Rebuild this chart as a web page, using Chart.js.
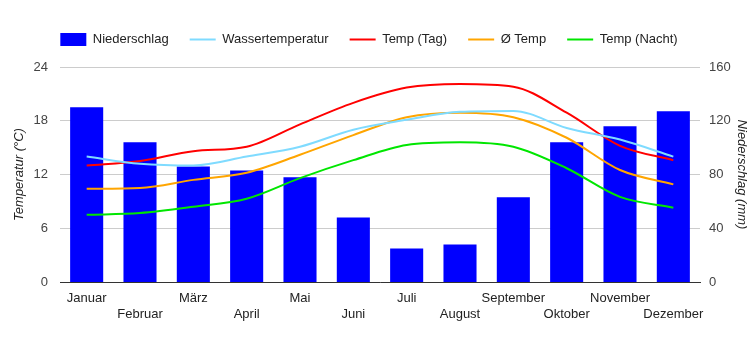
<!DOCTYPE html>
<html>
<head>
<meta charset="utf-8">
<script src="https://cdn.jsdelivr.net/npm/chart.js@4/dist/chart.umd.min.js"></script>
<style>
html,body{margin:0;padding:0;background:#fff;}
#wrap{width:750px;height:350px;position:relative;}
</style>
</head>
<body>
<div id="wrap"><canvas id="c"></canvas></div>
<script>
const months = ['Januar','Februar','März','April','Mai','Juni','Juli','August','September','Oktober','November','Dezember'];
const niederschlag = [130, 104, 86, 83, 78, 48, 25, 28, 63, 104, 116, 127];
const wassertemp = [14.0, 13.2, 13.0, 14.0, 15.1, 17.0, 18.1, 19.0, 19.1, 17.2, 15.9, 14.0];
const tempTag = [13.0, 13.5, 14.6, 15.1, 17.6, 20.0, 21.7, 22.1, 21.8, 18.9, 15.2, 13.6];
const tempAvg = [10.4, 10.5, 11.4, 12.2, 14.2, 16.4, 18.4, 18.9, 18.4, 16.1, 12.5, 10.9];
const tempNacht = [7.5, 7.7, 8.4, 9.3, 11.6, 13.6, 15.3, 15.6, 15.1, 12.7, 9.5, 8.3];
const tempTicks = [0, 6, 12, 18, 24];
const rainTicks = [0, 40, 80, 120, 160];

Chart.defaults.font.family = '"Liberation Sans", Arial, sans-serif';
Chart.defaults.font.size = 13;
Chart.defaults.color = '#444';

const lineDs = (label, data, color) => ({
  type: 'line', label, data, yAxisID: 'yT',
  borderColor: color, backgroundColor: color, borderWidth: 2,
  pointRadius: 0, tension: 0.4, cubicInterpolationMode: 'monotone', fill: false, order: 1,
  pointStyle: 'line'
});

const legendFix = {
  id: 'legendFix',
  afterInit(chart) {
    const lg = chart.legend;
    if (!lg) return;
    const origFit = lg.fit;
    lg.fit = function () { origFit.call(this); this.height = 55; };
    const origDraw = lg.draw;
    lg.draw = function () {
      const ctx = this.ctx;
      ctx.save(); ctx.translate(-6, 0);
      origDraw.call(this);
      ctx.restore();
    };
  }
};

new Chart(document.getElementById('c'), {
  plugins: [legendFix],
  data: {
    labels: months,
    datasets: [
      { type: 'bar', label: 'Niederschlag', data: niederschlag, yAxisID: 'yR',
        backgroundColor: '#0000FF', borderWidth: 0, barPercentage: 0.62, categoryPercentage: 1.0,
        order: 10, pointStyle: 'rect' },
      lineDs('Wassertemperatur', wassertemp, '#7FDBFF'),
      lineDs('Temp (Tag)', tempTag, '#FF0000'),
      lineDs('Ø Temp', tempAvg, '#FFA500'),
      lineDs('Temp (Nacht)', tempNacht, '#00E600')
    ]
  },
  options: {
    responsive: true, maintainAspectRatio: false, animation: false,
    layout: { padding: { left: 0, right: 0, top: 12, bottom: 0 } },
    plugins: {
      tooltip: { enabled: false },
      legend: {
        position: 'top', align: 'center',
        labels: {
          usePointStyle: true, pointStyleWidth: 26, boxHeight: 13,
          padding: 21, color: '#222', font: { size: 13 },
          sort: (a, b) => a.datasetIndex - b.datasetIndex
        }
      }
    },
    scales: {
      x: {
        afterFit: s => { s.height = 68; },
        grid: { display: false, drawTicks: false },
        border: { display: true, color: '#333', width: 1 },
        ticks: {
          autoSkip: false, maxRotation: 0, padding: 9, color: '#222',
          callback: function(v, i) { return i % 2 === 0 ? months[i] : ['', months[i]]; }
        }
      },
      yT: {
        position: 'left', min: 0, max: 24,
        afterFit: s => { s.width = 60; },
        afterBuildTicks: s => { s.ticks = tempTicks.map(v => ({ value: v })); },
        grid: { color: '#ccc', drawTicks: false },
        border: { display: false },
        ticks: { padding: 12, color: '#444' },
        title: { display: true, text: 'Temperatur (°C)', font: { style: 'italic', size: 13 }, color: '#222', padding: { top: 12, bottom: 0 } }
      },
      yR: {
        position: 'right', min: 0, max: 160,
        afterFit: s => { s.width = 50; },
        afterBuildTicks: s => { s.ticks = rainTicks.map(v => ({ value: v })); },
        grid: { display: false, drawTicks: false },
        border: { display: false },
        ticks: { padding: 9, color: '#444' },
        title: { display: true, text: 'Niederschlag (mm)', font: { style: 'italic', size: 13 }, color: '#222', padding: { top: 1, bottom: 0 } }
      }
    }
  }
});
</script>
</body>
</html>
